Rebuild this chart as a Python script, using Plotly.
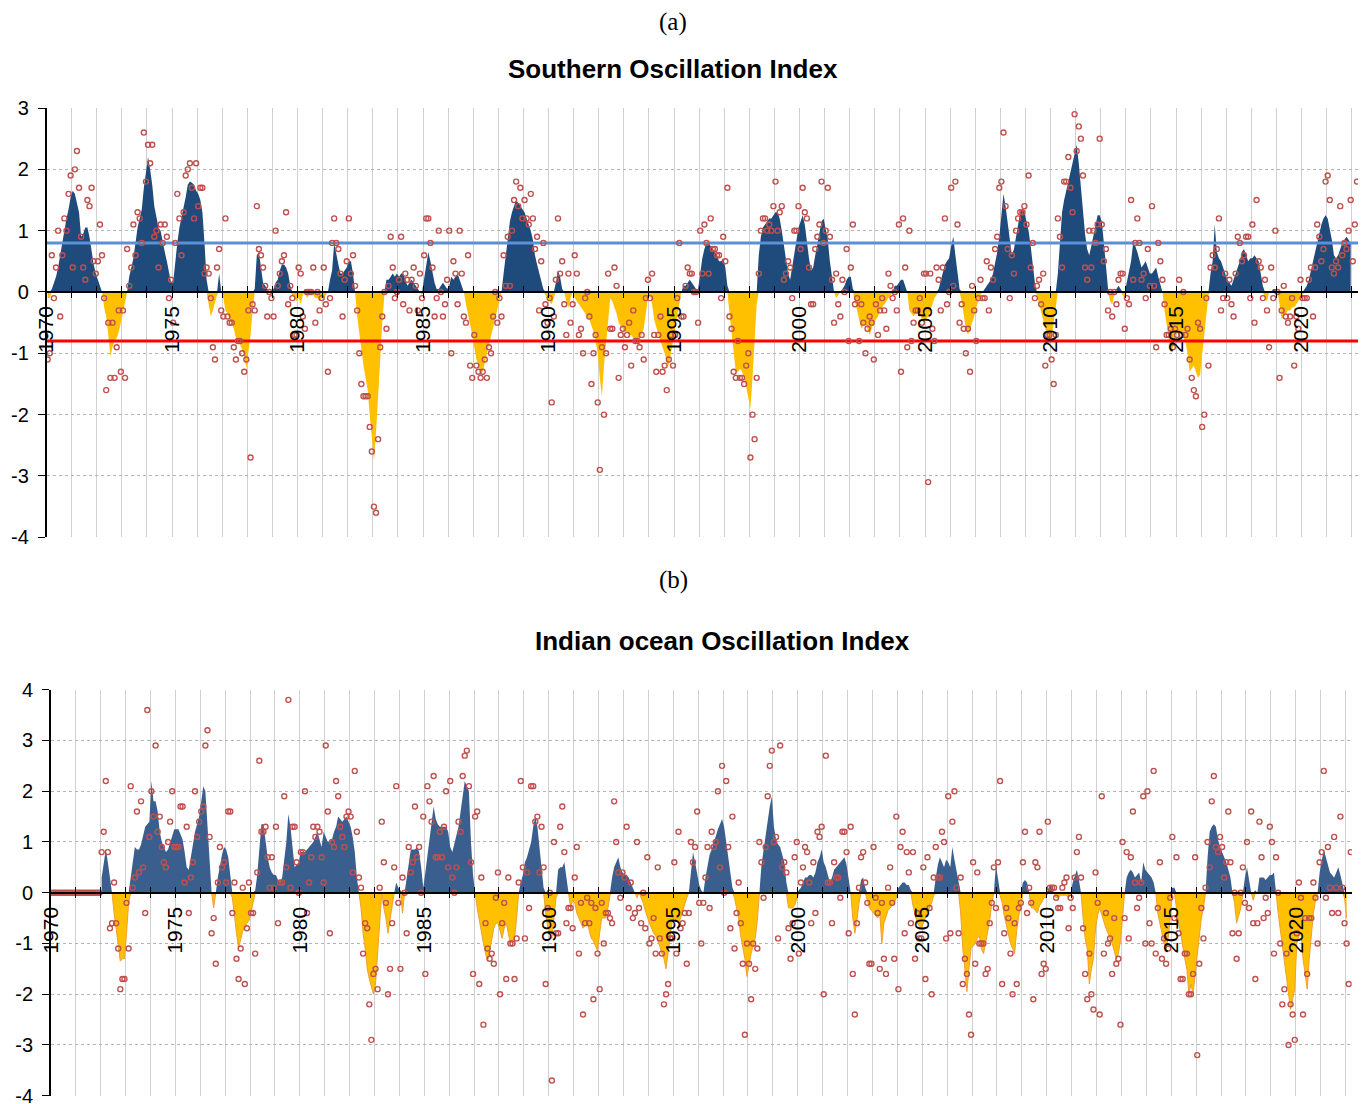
import plotly.graph_objects as go

# ---------------- data (monthly, Jan 1970 onwards) ----------------
START_YEAR = 1970
END_X = 2022.25          # last category edge (Mar 2022)
SOI_THRESH = 0.8
IOI_AVG_START = 1972

# (a) Southern Oscillation Index, monthly values (markers)
soi_pts_1970s = [
    -1.1, -1.0, 0.6, -0.1, 0.4, 1.0, -0.4, 0.6, 1.2, 1.0, 1.6, 1.9,
    0.4, 2.0, 2.3, 1.7, 0.9, 0.4, 0.2, 1.5, 1.4, 1.7, 0.5, 0.3,
    0.5, 1.1, 0.6, -0.1, -1.6, -0.5, -1.4, -0.5, -1.4, -0.9, -0.3, -1.3,
    -0.3, -1.4, 0.7, 0.1, 0.4, 1.1, 0.6, 1.3, 1.2, 0.8, 2.6, 1.8,
    2.4, 2.1, 2.4, 0.9, 1.0, 0.4, 1.1, 0.8, 1.1, 0.9, -0.1, 0.2,
    -0.5, 0.8, 1.6, 1.2, 0.6, 1.3, 1.9, 2.0, 2.1, 1.7, 1.2, 2.1,
    1.4, 1.7, 1.7, 0.3, 0.4, 0.3, -0.1, -0.9, -1.1, 0.4, 0.7, -0.3,
    -0.4, 1.2, -0.4, -0.5, -0.5, -0.9, -1.1, -0.8, -0.8, -1.0, -1.3, -1.1,
    -0.3, -2.7, -0.2, -0.3, 1.4, 0.7, 0.6, 0.4, 0.1, -0.4, 0.0, -0.1,
    -0.4, 1.0, 0.1, 0.3, 0.5, 0.6, 1.3, -0.2, 0.1, -0.1, -0.7, -0.7]
soi_pts_1980s = [
    0.4, 0.3, -0.4, -0.6, 0.0, 0.0, 0.0, 0.4, -0.5, 0.0, -0.3, -0.1,
    0.4, -0.2, -1.3, -0.1, 0.8, 1.2, 0.8, 0.7, 0.3, -0.4, 0.2, 0.5,
    1.2, 0.3, 0.6, 0.1, -0.3, -1.0, -1.5, -1.7, -1.7, -1.7, -2.2, -2.6,
    -3.5, -3.6, -2.4, -0.9, -0.4, 0.0, -0.6, 0.1, 0.9, 0.4, -0.1, 0.0,
    0.2, 0.9, -0.2, 0.3, 0.2, -0.3, 0.2, 0.4, 0.1, -0.3, 0.3, -0.1,
    0.6, 1.2, 1.2, 0.8, 0.4, -0.4, -0.1, 1.0, 0.0, -0.4, -0.2, 0.2,
    1.0, -1.0, 0.5, 0.3, -0.2, 1.0, 0.3, -0.4, -0.5, 0.6, -1.2, -1.4,
    -0.7, -1.2, -1.3, -1.4, -1.3, -1.1, -1.4, -0.9, -1.0, -0.4, 0.0, -0.5,
    -0.1, -0.4, 0.6, 0.1, 0.9, 0.1, 1.0, 1.5, 1.8, 1.4, 1.7, 1.2,
    1.5, 1.2, 1.1, 1.6, 1.2, 0.7, 0.9, -0.3, 0.5, 0.8, -0.2, -0.5]
soi_pts_1990s = [
    -0.1, -1.8, -0.4, 0.2, 1.2, 0.3, 0.5, -0.2, -0.7, 0.3, -0.5, -0.2,
    0.6, 0.3, -0.7, -0.6, -1.0, -0.1, 0.0, -0.4, -1.5, -1.0, -0.7, -1.8,
    -2.9, -0.9, -2.0, -1.0, 0.3, -0.6, -0.6, 0.4, 0.1, -1.4, -0.7, -0.6,
    -0.9, -0.7, -0.5, -1.2, -0.3, -0.8, -0.8, -0.9, -0.7, -1.1, -0.1, 0.2,
    -0.1, 0.3, -0.7, -1.3, -0.7, -0.4, -1.3, -1.2, -1.6, -1.1, -0.7, -1.2,
    -0.7, -0.1, 0.8, -0.4, -0.4, 0.1, 0.4, 0.3, 0.3, 0.0, 0.0, -0.5,
    1.0, 0.3, 1.1, 0.8, 0.3, 1.2, 0.7, 0.7, 0.6, 0.6, -0.1, 0.9,
    0.5, 1.7, -0.4, -0.6, -1.3, -1.4, -0.8, -1.4, -1.4, -1.5, -1.2, -1.0,
    -2.7, -2.0, -2.4, -1.4, 0.3, 1.0, 1.2, 1.2, 1.0, 1.1, 1.0, 1.4,
    1.8, 1.0, 1.3, 1.4, 0.2, 0.3, 0.5, 0.4, -0.1, 1.0, 1.0, 1.4]
soi_pts_2000s = [
    0.7, 1.7, 1.3, 1.2, 0.4, -0.2, -0.2, 0.7, 0.9, 1.1, 1.8, 0.8,
    1.0, 1.7, 0.9, 0.2, -0.5, 0.3, -0.2, -0.4, 0.2, 0.0, 0.7, -0.8,
    0.4, 1.1, -0.2, -0.1, -0.8, -0.2, -0.5, -1.0, -0.6, -0.4, -0.5, -1.1,
    -0.2, -0.7, -0.3, -0.1, -0.3, -0.6, 0.3, 0.1, -0.1, 0.0, -0.3, 1.1,
    -1.3, 1.2, 0.4, -0.9, 1.0, -0.8, -0.5, -0.3, -0.3, -0.1, -0.5, 0.3,
    0.3, -3.1, 0.3, -0.6, -0.8, 0.4, 0.2, -0.3, 0.4, 1.2, -0.2, 0.0,
    1.7, 0.1, 1.8, 1.1, -0.5, -0.2, -0.6, -1.0, -0.6, -1.3, 0.1, -0.3,
    -0.8, -0.1, 0.2, -0.1, -0.1, 0.5, -0.3, 0.4, 0.2, 0.7, 0.9, 1.7,
    1.8, 2.6, 1.4, 0.7, -0.1, 0.6, 0.3, 1.0, 1.2, 1.3, 1.3, 1.4,
    1.1, 1.9, 0.4, 0.8, -0.1, 0.1, 0.2, -0.2, 0.3, -1.2, -0.7, -0.7]
soi_pts_2010s = [
    -1.1, -1.5, -0.7, 1.2, 0.9, 0.4, 1.8, 1.8, 2.2, 1.7, 1.3, 2.9,
    2.3, 2.7, 2.5, 1.9, 0.4, 0.2, 1.0, 0.4, 1.0, 0.8, 1.1, 2.5,
    1.1, 0.5, 0.7, -0.3, 0.0, -0.4, 0.0, -0.2, 0.2, 0.3, 0.3, -0.6,
    -0.1, -0.2, 1.5, 0.2, 0.8, 1.2, 0.8, 0.2, 0.3, -0.1, 0.7, 0.1,
    1.4, 0.1, -0.9, 0.8, 0.5, 0.2, -0.2, -0.7, -0.7, -0.6, -0.9, -0.6,
    -0.7, 0.2, -0.7, 0.0, -0.7, -0.6, -1.1, -1.4, -1.6, -1.7, -0.5, -0.6,
    -2.2, -2.0, -0.1, -1.2, 0.4, 0.6, 0.4, 0.7, 1.2, -0.3, -0.1, 0.3,
    -0.1, 0.2, -0.2, -0.4, 0.3, 0.9, 0.8, 0.5, 0.6, 0.9, 0.9, -0.1,
    1.1, -0.5, 1.5, 0.5, 0.4, -0.1, 0.2, -0.3, -0.9, 0.4, -0.1, 1.0,
    0.0, -1.4, -0.3, 0.1, -0.4, -0.5, -0.4, -0.1, -1.2, -0.4, -0.6, 0.2]
soi_pts_2020s = [
    -0.1, -0.1, -0.1, 0.2, 0.4, -0.4, 0.4, 1.1, 0.9, 0.5, 0.7, 1.8,
    1.9, 1.5, 0.4, 0.3, 0.5, 0.4, 1.4, 0.6, 0.8, 0.7, 1.0, 1.5,
    0.5, 1.1, 1.8]

# (a) smoothed SOI (area), Jan 1970 - Dec 2021
soi_avg_1970s = [
    -0.1, -0.1, 0.05, 0.15, 0.25, 0.4, 0.6, 0.85, 1.05, 1.2, 1.35, 1.55,
    1.65, 1.6, 1.45, 1.3, 0.9, 0.95, 1.05, 1.05, 0.9, 0.65, 0.45, 0.3,
    0.2, 0.1, 0.0, -0.25, -0.4, -0.7, -1.05, -0.9, -0.8, -0.75, -0.65, -0.5,
    -0.35, -0.2, 0.0, 0.25, 0.4, 0.55, 0.8, 1.05, 1.2, 1.35, 1.7, 2.0,
    2.2, 2.0, 1.75, 1.4, 1.2, 1.05, 1.0, 0.8, 0.65, 0.5, 0.3, 0.15,
    0.15, 0.5, 0.8, 1.05, 1.2, 1.35, 1.55, 1.75, 1.8, 1.78, 1.75, 1.65,
    1.6, 1.5, 1.3, 0.8, 0.2, -0.2, -0.4, -0.3, -0.15, -0.05, 0.3, 0.0,
    -0.1, -0.3, -0.35, -0.45, -0.5, -0.6, -0.75, -0.85, -0.85, -0.95, -1.05, -1.25,
    -1.0, -0.7, -0.3, 0.05, 0.6, 0.65, 0.35, 0.15, 0.1, 0.05, 0.0, -0.05,
    0.05, 0.15, 0.2, 0.35, 0.45, 0.45, 0.4, 0.3, 0.1, -0.05, -0.1, -0.15]
soi_avg_1980s = [
    -0.1, -0.2, -0.05, 0.05, -0.1, -0.05, 0.0, -0.05, -0.1, -0.1, -0.15, -0.1,
    -0.1, -0.05, 0.0, 0.2, 0.35, 0.8, 0.6, 0.45, 0.3, 0.3, 0.35, 0.4,
    0.5, 0.5, 0.3, 0.0, -0.4, -0.7, -1.0, -1.2, -1.4, -1.6, -2.0, -2.4,
    -2.75, -2.3, -1.6, -1.1, -0.5, -0.05, 0.2, 0.2, 0.25, 0.3, 0.25, 0.3,
    0.25, 0.3, 0.3, 0.2, 0.1, 0.15, 0.2, 0.15, 0.1, 0.05, 0.0, -0.05,
    0.2, 0.45, 0.65, 0.5, 0.3, 0.15, 0.05, 0.05, 0.1, 0.15, 0.1, 0.05,
    0.1, 0.25, 0.2, 0.25, 0.3, 0.2, 0.1, 0.0, -0.2, -0.35, -0.55, -0.7,
    -0.9, -1.1, -1.2, -1.3, -1.3, -1.15, -1.0, -0.85, -0.7, -0.55, -0.4, -0.3,
    -0.1, 0.0, 0.3, 0.6, 0.95, 1.15, 1.3, 1.4, 1.5, 1.45, 1.4, 1.35,
    1.3, 1.2, 1.1, 1.0, 0.85, 0.6, 0.45, 0.3, 0.15, 0.05, -0.05, -0.1]
soi_avg_1990s = [
    -0.15, -0.2, -0.1, 0.15, 0.35, 0.25, 0.05, 0.0, -0.15, -0.25, -0.1, 0.0,
    -0.1, -0.15, -0.2, -0.25, -0.3, -0.35, -0.4, -0.45, -0.55, -0.65, -0.8, -1.0,
    -1.4, -1.7, -1.2, -0.8, -0.4, -0.1, -0.15, -0.25, -0.35, -0.5, -0.55, -0.6,
    -0.65, -0.65, -0.7, -0.7, -0.75, -0.8, -0.8, -0.75, -0.7, -0.6, -0.35, -0.1,
    -0.05, -0.2, -0.45, -0.6, -0.7, -0.8, -0.9, -1.0, -1.15, -1.2, -1.0, -0.8,
    -0.6, -0.4, -0.2, 0.0, 0.1, 0.1, 0.15, 0.2, 0.15, 0.1, 0.05, 0.05,
    0.35, 0.55, 0.7, 0.8, 0.8, 0.75, 0.7, 0.65, 0.6, 0.5, 0.5, 0.55,
    0.4, 0.1, -0.35, -0.7, -1.0, -1.3, -1.3, -1.25, -1.3, -1.4, -1.55, -1.7,
    -1.9, -1.4, -0.8, -0.2, 0.6, 0.9, 1.05, 1.1, 1.15, 1.2, 1.2, 1.25,
    1.3, 1.3, 1.2, 1.0, 0.75, 0.5, 0.3, 0.2, 0.4, 0.6, 0.8, 1.05]
soi_avg_2000s = [
    1.15, 1.25, 1.1, 0.8, 0.55, 0.35, 0.4, 0.6, 0.8, 1.0, 1.15, 1.2,
    1.05, 0.85, 0.5, 0.2, 0.0, -0.1, -0.05, 0.0, 0.05, 0.1, 0.2, 0.25,
    0.25, 0.05, -0.15, -0.3, -0.45, -0.6, -0.55, -0.5, -0.6, -0.7, -0.6, -0.5,
    -0.45, -0.4, -0.3, -0.25, -0.2, -0.15, -0.1, -0.05, 0.0, 0.1, 0.1, 0.15,
    0.2, 0.2, 0.1, 0.0, -0.3, -0.35, -0.4, -0.35, -0.3, -0.35, -0.45, -0.5,
    -0.45, -0.4, -0.3, -0.2, -0.1, -0.05, 0.05, 0.2, 0.35, 0.45, 0.5, 0.55,
    0.75, 0.9, 0.6, 0.3, 0.05, -0.15, -0.35, -0.6, -0.7, -0.6, -0.5, -0.4,
    -0.25, -0.15, -0.05, 0.0, 0.05, 0.1, 0.15, 0.2, 0.3, 0.45, 0.65, 0.9,
    1.3, 1.6, 1.4, 1.1, 0.8, 0.6, 0.7, 0.9, 1.1, 1.3, 1.35, 1.3,
    1.15, 1.0, 0.75, 0.45, 0.15, -0.05, -0.2, -0.35, -0.5, -0.6, -0.7, -0.8]
soi_avg_2010s = [
    -0.75, -0.5, -0.2, 0.3, 0.8, 1.3, 1.5, 1.65, 1.8, 1.95, 2.1, 2.25,
    2.4, 2.1, 1.7, 1.3, 0.95, 0.7, 0.6, 0.75, 0.9, 1.1, 1.25, 1.25,
    1.15, 0.8, 0.35, 0.05, -0.15, -0.2, -0.05, 0.05, 0.1, 0.05, -0.05, -0.1,
    0.15, 0.3, 0.5, 0.8, 0.75, 0.65, 0.5, 0.4, 0.45, 0.5, 0.4, 0.3,
    0.3, 0.35, 0.4, 0.25, 0.1, 0.0, -0.3, -0.55, -0.8, -1.0, -0.9, -0.75,
    -0.6, -0.65, -0.7, -0.75, -0.8, -1.0, -1.3, -1.25, -1.2, -1.3, -1.4, -1.35,
    -1.0, -0.7, -0.35, -0.05, 0.3, 0.5, 1.1, 0.65, 0.55, 0.5, 0.4, 0.3,
    0.2, 0.15, 0.1, 0.2, 0.3, 0.4, 0.5, 0.65, 0.7, 0.6, 0.5, 0.55,
    0.55, 0.6, 0.55, 0.5, 0.3, 0.1, -0.1, -0.15, 0.0, 0.0, 0.05, 0.05,
    0.0, -0.2, -0.45, -0.4, -0.35, -0.3, -0.3, -0.25, -0.25, -0.2, -0.15, -0.1]
soi_avg_2020s = [
    -0.05, 0.05, 0.1, 0.2, 0.35, 0.5, 0.7, 0.85, 1.0, 1.1, 1.2, 1.25,
    1.2, 1.05, 0.85, 0.6, 0.55, 0.6, 0.7, 0.8, 0.85, 0.9, 0.85, 0.8]

# (b) Indian ocean Oscillation Index, monthly values (markers)
ioi_pts_1970s = [
    0.0, 0.0, 0.0, 0.0, 0.0, 0.0, 0.0, 0.0, 0.0, 0.0, 0.0, 0.0,
    0.0, 0.0, 0.0, 0.0, 0.0, 0.0, 0.0, 0.0, 0.0, 0.0, 0.0, 0.0,
    0.8, 1.2, 2.2, 0.8, -0.7, -0.6, 0.2, -0.6, -1.1, -1.9, -1.7, -1.7,
    -0.2, -1.1, 2.1, 0.1, 0.3, 1.6, 0.4, 1.8, 0.5, -0.4, 3.6, 1.1,
    2.0, 1.5, 2.9, 1.2, 1.5, 0.9, 0.6, 0.5, 1.0, 1.4, 2.0, 0.9,
    0.9, 0.9, 1.7, 1.7, 0.2, 1.3, -0.4, 0.3, 0.6, 2.0, 1.1, 1.4,
    1.6, 1.7, 2.9, 3.2, 1.1, -0.8, -0.5, -1.4, 0.2, 0.9, 0.5, 0.6,
    0.2, 1.6, 1.6, -0.4, 0.2, -1.3, -1.7, -1.1, 0.1, -1.8, -0.7, 0.2,
    -0.4, -0.4, -1.2, 0.4, 2.6, 1.2, 1.2, 1.3, 0.7, 0.1, 0.7, 0.1,
    1.3, -0.6, 0.2, 0.2, 1.9, 0.5, 3.8, 0.1, 1.3, 1.3, 0.6, 0.0]
ioi_pts_1980s = [
    0.8, 0.8, 2.0, -0.4, 0.2, 0.7, 1.3, 1.1, 1.3, 1.2, 0.7, 0.2,
    2.9, 1.6, -0.8, 1.0, 0.9, 2.2, 1.9, 1.3, 1.1, 0.9, 1.5, 1.6,
    1.5, 0.4, 2.4, 1.2, 0.3, 0.1, -1.2, -0.6, -0.7, -2.2, -2.9, -1.6,
    -1.5, -1.9, 0.1, 1.4, 0.6, -0.2, -2.0, -1.5, -0.6, 0.5, 2.1, -0.2,
    -1.5, 0.3, 0.0, -0.8, 0.9, 0.4, 0.6, 1.7, 0.7, 0.9, 0.0, 1.5,
    -1.6, 2.1, 1.8, 1.4, 2.3, 0.7, 0.7, 1.2, 0.7, 1.3, 2.0, 0.5,
    2.2, 0.3, 0.0, 0.5, 1.4, 1.2, 2.3, 2.7, 2.8, 2.1, 0.6, -1.6,
    1.5, 1.6, -1.8, 0.3, -2.6, -0.6, -1.1, -1.3, -1.2, -1.4, -0.1, 0.4,
    -2.0, -0.6, -0.2, -1.7, 0.3, -1.0, -1.0, -1.7, -0.9, 0.2, 2.2, 0.5,
    -0.9, 0.4, -0.3, 2.1, 2.1, 1.4, 1.5, 0.4, 1.3, 0.5, -1.8, -0.3]
ioi_pts_1990s = [
    0.0, -3.7, 1.0, -0.8, -0.8, 1.3, 1.7, 0.8, -0.6, -0.3, -0.3, -0.7,
    0.3, 0.9, -1.2, -0.2, -2.4, -0.6, -0.1, -0.6, -0.2, -2.1, -0.3, -1.2,
    -1.9, -0.2, -1.0, -0.4, -0.4, -0.5, -0.6, 1.8, 1.0, 0.4, -0.1, 0.4,
    0.3, 1.3, -0.3, 0.2, -0.5, -0.4, 1.0, -0.3, -0.6, 0.0, -0.7, 0.7,
    -1.0, -0.9, -0.5, -1.2, 0.5, -0.9, -1.2, -2.2, -2.0, -1.8, -0.9, -0.9,
    0.6, -1.2, 1.2, -0.7, -0.6, -0.4, -1.4, -0.4, 1.0, 0.6, 0.9, 1.6,
    -0.2, -1.0, -0.2, 0.3, 0.9, -0.3, 1.2, 0.9, 1.0, 2.0, 0.5, 2.5,
    0.0, 2.2, 0.9, -0.7, 1.5, -1.1, -0.4, 0.2, -0.6, -1.4, -2.8, -1.0,
    -1.4, -2.1, -1.0, -1.5, -1.1, 1.0, 0.6, -0.1, 0.9, 1.9, 2.5, 2.8,
    1.0, 1.1, -0.9, 2.9, 0.5, 0.6, 0.4, -0.7, -1.3, -0.6, 0.7, 1.0]
ioi_pts_2000s = [
    -1.2, 0.2, 0.5, 0.9, 0.8, 0.2, -0.6, 0.6, -0.4, 1.2, 1.1, 1.3,
    -2.0, 2.7, 0.2, 0.2, -0.6, 0.6, 0.3, 0.3, -0.1, 1.2, 1.2, 0.8,
    -0.8, 1.3, -1.6, -2.4, -0.6, 0.1, 0.7, 0.8, 0.2, -0.2, -1.4, -1.4,
    0.9, -0.1, -0.4, -1.5, -0.2, -1.3, -1.6, 0.1, 0.5, -0.2, -1.3, 1.5,
    -1.9, 0.9, 1.2, -0.8, 0.8, 0.4, -0.6, 0.8, -1.3, -0.4, -0.9, -0.9,
    0.5, -1.7, 0.7, -0.3, -2.0, 0.3, 0.9, 0.3, 0.3, 1.2, 1.0, -0.9,
    1.9, -0.8, 1.4, 2.0, 0.1, -0.8, 0.3, -1.8, -1.3, -1.6, -2.4, -2.8,
    0.6, -1.4, 0.4, -1.0, -1.0, -1.0, -1.6, -1.5, -0.6, -0.2, 0.5, -0.3,
    0.6, 2.2, -1.8, -0.8, -0.3, -0.5, -1.2, -2.0, -0.6, -1.8, -0.3, -0.2,
    0.6, 1.2, -0.4, 0.1, -0.2, -2.1, 0.6, 0.5, 1.2, -1.6, -1.4, -1.5]
ioi_pts_2010s = [
    1.4, 0.1, 0.1, 0.1, -0.1, -0.3, -0.3, 0.1, 0.2, 0.3, -0.7, -0.1,
    -0.3, 0.3, 0.8, 1.1, 0.3, -0.7, -1.6, -2.1, -1.2, -2.0, -2.3, 0.4,
    -0.2, -2.4, 1.9, -1.2, -0.4, -1.0, -0.9, -1.6, -0.5, -1.4, -1.3, -2.6,
    1.0, -0.5, 0.8, -0.9, 0.7, 1.6, 0.2, -0.3, -0.1, 0.2, 1.9, -1.0,
    2.0, -0.6, -1.0, 2.4, -1.2, -0.3, 0.6, -1.3, -0.9, -1.4, -1.1, -0.1,
    1.1, -0.5, 0.7, -0.8, -1.7, -1.7, -1.2, -1.2, -2.0, -2.0, -1.6, 0.7,
    -3.2, -1.4, -0.3, -0.9, 0.1, 1.0, 0.5, 1.8, 2.3, 0.9, 0.8, 1.1,
    0.9, 0.3, 0.6, 1.6, 0.6, -0.8, 0.0, -1.3, -0.8, 0.0, 0.5, -0.2,
    1.0, -0.3, 1.6, -0.6, -1.7, -0.6, 1.4, 0.7, -0.5, -0.1, -0.4, 1.3,
    1.0, -1.2, 0.7, 0.0, -1.0, -2.2, -1.9, -1.2, -3.0, -2.2, -2.4, -2.9]
ioi_pts_2020s = [
    -0.8, 0.2, -0.1, -2.4, -0.5, -1.6, -0.5, -0.5, 0.2, -0.1, -1.0, 0.6,
    0.8, 2.4, -0.1, 0.9, 0.1, -0.4, 1.1, 0.1, -0.4, 1.5, 0.1, -0.6,
    -1.0, -1.8, 0.8]

# (b) smoothed index (area), Jan 1972 - Jan 2022
ioi_avg_1970s = [
    0.3, 0.6, 0.85, 0.6, 0.3, 0.0, -0.4, -0.7, -1.0, -1.35, -1.3, -1.3,
    -0.8, -0.2, 0.3, 0.6, 0.9, 0.85, 0.85, 0.95, 1.1, 1.3, 1.35, 1.4,
    2.2, 1.8, 1.8, 1.6, 1.2, 1.0, 0.9, 0.8, 0.85, 1.0, 1.15, 1.25,
    1.25, 1.25, 1.15, 1.05, 0.8, 0.5, 0.45, 0.7, 0.95, 1.2, 1.35, 1.5,
    1.8, 2.1, 2.0, 1.4, 0.7, 0.0, -0.3, 0.0, 0.3, 0.55, 0.75, 0.9,
    0.85, 0.7, 0.3, -0.1, -0.5, -0.8, -1.1, -0.9, -0.75, -0.7, -0.6, -0.55,
    -0.4, -0.2, 0.05, 0.35, 0.85, 1.35, 1.35, 1.0, 0.7, 0.5, 0.4, 0.35,
    0.35, 0.25, 0.2, 0.3, 0.6, 1.0, 1.55, 1.3, 0.9, 0.5, 0.55, 0.6]
ioi_avg_1980s = [
    0.8, 0.8, 0.8, 0.85, 0.9, 0.95, 1.0, 1.1, 1.2, 1.05, 0.9, 1.2,
    1.1, 1.0, 1.0, 1.05, 1.2, 1.3, 1.5, 1.45, 1.4, 1.45, 1.5, 1.4,
    1.3, 1.1, 0.8, 0.3, 0.0, -0.3, -0.8, -1.1, -1.5, -1.7, -1.85, -2.0,
    -1.8, -1.2, -0.4, 0.0, -0.3, -0.5, -0.8, -0.5, -0.2, 0.0, 0.2, 0.1,
    0.05, -0.4, 0.0, 0.3, 0.6, 0.85, 0.85, 0.85, 0.9, 0.8, 0.5, 0.1,
    0.4, 0.7, 1.0, 1.3, 1.7, 1.45, 1.35, 1.3, 1.3, 1.3, 1.3, 1.2,
    0.9, 0.8, 0.95, 1.1, 1.3, 1.6, 1.9, 2.2, 2.1, 2.0, 1.0, 0.35,
    0.0, -0.3, -0.55, -0.8, -1.0, -1.2, -1.35, -1.15, -0.95, -0.7, -0.6, -0.6,
    -0.75, -0.9, -0.7, -0.6, -0.8, -1.0, -0.95, -0.9, -0.5, 0.0, 0.2, 0.35,
    0.6, 0.7, 0.85, 1.0, 1.3, 1.5, 1.3, 0.9, 0.55, 0.1, -0.4, -0.7]
ioi_avg_1990s = [
    -0.8, -0.9, -0.5, -0.1, 0.45, 0.5, 0.5, 0.6, 0.3, 0.0, -0.3, -0.15,
    -0.2, -0.4, -0.5, -0.6, -0.7, -0.65, -0.6, -0.75, -0.9, -0.95, -1.05, -1.15,
    -0.8, -0.5, -0.5, -0.5, -0.3, -0.05, 0.3, 0.5, 0.6, 0.7, 0.5, 0.4,
    0.35, 0.35, 0.3, 0.2, 0.1, 0.0, -0.1, 0.0, -0.1, -0.2, -0.35, -0.5,
    -0.6, -0.7, -0.8, -0.85, -0.95, -1.05, -1.2, -1.3, -1.5, -1.2, -0.8, -0.55,
    -0.5, -0.55, -0.6, -0.5, -0.35, -0.2, -0.1, 0.0, 0.4, 0.8, 0.6, 0.4,
    0.15, 0.05, 0.0, 0.3, 0.55, 0.75, 0.85, 1.0, 1.15, 1.25, 1.35, 1.45,
    1.3, 1.0, 0.8, 0.45, 0.1, -0.1, -0.3, -0.5, -0.85, -1.1, -1.3, -1.65,
    -1.4, -1.2, -1.05, -0.9, -0.55, 0.0, 0.55, 0.85, 1.1, 1.45, 1.7, 1.9,
    1.3, 1.05, 0.95, 0.9, 0.75, 0.6, 0.2, -0.3, -0.3, -0.3, -0.25, -0.1]
ioi_avg_2000s = [
    0.05, 0.1, 0.2, 0.3, 0.3, 0.35, 0.35, 0.3, 0.4, 0.6, 0.7, 0.85,
    0.6, 0.5, 0.35, 0.2, 0.3, 0.45, 0.5, 0.55, 0.6, 0.65, 0.7, 0.55,
    0.3, 0.0, -0.5, -0.8, -0.55, -0.2, 0.25, 0.3, 0.1, -0.15, -0.3, -0.35,
    -0.4, -0.45, -0.5, -0.4, -1.0, -0.6, -0.45, -0.35, -0.3, -0.25, -0.2, -0.1,
    0.1, 0.15, 0.2, 0.2, 0.15, 0.15, 0.05, -0.25, -0.45, -0.6, -0.65, -0.7,
    -0.6, -0.5, -0.4, -0.3, -0.2, -0.05, 0.3, 0.55, 0.7, 0.6, 0.5, 0.65,
    0.6, 0.5, 0.9, 0.65, 0.45, 0.2, -0.4, -1.1, -1.5, -1.95, -1.5, -1.1,
    -1.05, -1.0, -0.9, -0.85, -1.1, -1.2, -1.0, -0.8, -0.55, -0.2, 0.0, 0.55,
    0.3, -0.05, -0.2, -0.45, -0.65, -0.8, -1.0, -1.1, -1.2, -0.75, -0.45, -0.3,
    0.2, 0.25, 0.2, 0.0, -0.3, -0.3, -0.35, -0.4, -0.25, -0.2, -0.1, -0.1]
ioi_avg_2010s = [
    0.05, 0.15, 0.1, 0.0, -0.1, -0.1, -0.05, -0.05, -0.05, -0.05, -0.1, 0.0,
    0.2, 0.35, 0.45, 0.25, 0.0, -0.5, -0.9, -1.1, -1.8, -1.5, -1.3, -0.7,
    -0.45, -0.3, -0.45, -0.6, -0.7, -0.8, -0.9, -1.0, -1.15, -1.3, -1.2, -0.95,
    -0.5, 0.0, 0.3, 0.4, 0.45, 0.4, 0.3, 0.35, 0.4, 0.2, 0.6, 0.45,
    0.4, 0.35, 0.3, 0.2, 0.0, -0.4, -0.6, -0.8, -1.0, -1.1, -0.9, -0.5,
    0.1, 0.1, -0.35, -0.6, -0.8, -1.1, -1.3, -1.5, -2.0, -1.8, -2.0, -1.6,
    -1.2, -0.9, -0.5, -0.3, 0.0, 0.7, 1.2, 1.3, 1.35, 1.3, 1.05, 0.9,
    0.8, 0.7, 0.6, 0.45, 0.3, 0.0, -0.2, -0.6, -0.45, -0.3, 0.0, 0.3,
    0.5, 0.25, 0.0, -0.15, 0.05, 0.0, 0.3, 0.3, 0.3, 0.25, 0.3, 0.35,
    0.35, 0.4, 0.0, -0.4, -0.7, -1.0, -1.3, -1.6, -2.0, -2.3, -2.1, -1.9]
ioi_avg_2020s = [
    -1.0, -0.85, -0.8, -1.3, -1.6, -1.9, -1.3, -0.8, -0.4, -0.15, 0.0, 0.4,
    0.6, 0.85, 0.7, 0.55, 0.4, 0.35, 0.3, 0.4, 0.5, 0.35, 0.2, -0.1,
    -0.5]

YEAR_TICKS = list(range(1970, 2023))

# ---------------- helpers ----------------
def joined(*parts):
    out = []
    for p in parts:
        out.extend(p)
    return out

def month_x(n, start_year):
    return [start_year + (i + 0.5) / 12.0 for i in range(n)]

soi_pts = joined(soi_pts_1970s, soi_pts_1980s, soi_pts_1990s, soi_pts_2000s, soi_pts_2010s, soi_pts_2020s)
soi_avg = joined(soi_avg_1970s, soi_avg_1980s, soi_avg_1990s, soi_avg_2000s, soi_avg_2010s, soi_avg_2020s)
ioi_pts = joined(ioi_pts_1970s, ioi_pts_1980s, ioi_pts_1990s, ioi_pts_2000s, ioi_pts_2010s, ioi_pts_2020s)
ioi_avg = joined(ioi_avg_1970s, ioi_avg_1980s, ioi_avg_1990s, ioi_avg_2000s, ioi_avg_2010s, ioi_avg_2020s)

# the page body adds an 8 px margin; size the figure so it still fits the window
PAGE_PAD = 8
W, H = 1367 - PAGE_PAD, 1104 - PAGE_PAD
# panel geometry in window pixels
TOP_X0, TOP_X1 = 46.6, 1358.0
TOP_Y_HI, TOP_Y_LO = 108.0, 537.3      # y=3 , y=-4
BOT_X0, BOT_X1 = 50.8, 1351.8
BOT_Y_HI, BOT_Y_LO = 689.7, 1095.7     # y=4 , y=-4
TOP_RANGE = [-4, 3]
BOT_RANGE = [-4, 4]

def fx(px):
    return (px - PAGE_PAD) / W

def fy(py):
    return 1 - (py - PAGE_PAD) / H

top_dom_y = [fy(TOP_Y_LO), fy(TOP_Y_HI)]
bot_dom_y = [fy(BOT_Y_LO), fy(BOT_Y_HI)]
def zero_pos(dom, rng):
    return dom[0] + (0 - rng[0]) / (rng[1] - rng[0]) * (dom[1] - dom[0])

BLUE_TOP = "#1f4a7c"
BLUE_BOT = "#3a5f8e"
GOLD = "#ffc000"
RED_M = "#c0504d"

fig = go.Figure()

def add_area(vals, start_year, xa, ya, blue, outline=None):
    xs = month_x(len(vals), start_year)
    pos = [max(v, 0.0) for v in vals]
    neg = [min(v, 0.0) for v in vals]
    fig.add_trace(go.Scatter(x=xs, y=pos, mode="lines", fill="tozeroy",
                             fillcolor=blue, line=dict(width=0, color=blue),
                             xaxis=xa, yaxis=ya, hoverinfo="skip", showlegend=False))
    fig.add_trace(go.Scatter(x=xs, y=neg, mode="lines", fill="tozeroy",
                             fillcolor=GOLD,
                             line=dict(width=(1 if outline else 0), color=(outline or GOLD)),
                             xaxis=xa, yaxis=ya, hoverinfo="skip", showlegend=False))

def add_points(vals, xa, ya):
    fig.add_trace(go.Scatter(x=month_x(len(vals), START_YEAR), y=vals, mode="markers",
                             marker=dict(symbol="circle-open", size=5, color=RED_M,
                                         line=dict(width=1.4, color=RED_M)),
                             xaxis=xa, yaxis=ya, hoverinfo="skip", showlegend=False))

# panel (a)
add_area(soi_avg, START_YEAR, "x", "y", BLUE_TOP)
fig.add_trace(go.Scatter(x=[START_YEAR, END_X], y=[SOI_THRESH, SOI_THRESH], mode="lines",
                         line=dict(color="#5b8fd6", width=3), xaxis="x", yaxis="y",
                         hoverinfo="skip", showlegend=False))
fig.add_trace(go.Scatter(x=[START_YEAR, END_X], y=[-SOI_THRESH, -SOI_THRESH], mode="lines",
                         line=dict(color="#ff0000", width=3), xaxis="x", yaxis="y",
                         hoverinfo="skip", showlegend=False))
add_points(soi_pts, "x", "y")

# panel (b)
add_area(ioi_avg, IOI_AVG_START, "x2", "y2", BLUE_BOT, outline="#f0a030")
add_points(ioi_pts, "x2", "y2")

# dummy traces so that the inside-tick overlay axes are drawn
fig.add_trace(go.Scatter(x=[None], y=[None], xaxis="x3", yaxis="y", showlegend=False, hoverinfo="skip"))
fig.add_trace(go.Scatter(x=[None], y=[None], xaxis="x4", yaxis="y2", showlegend=False, hoverinfo="skip"))

tick_text = [str(y) if y % 5 == 0 else "" for y in YEAR_TICKS]
X_FONT = dict(family="Liberation Sans, Arial, sans-serif", size=21, color="black")
Y_FONT = dict(family="Liberation Sans, Arial, sans-serif", size=20, color="black")

def xaxis_cfg(dom, pos):
    return dict(domain=dom, range=[START_YEAR, END_X], anchor="free", position=pos,
                tickmode="array", tickvals=YEAR_TICKS, ticktext=tick_text, tickangle=-90,
                ticks="outside", ticklen=5, tickwidth=1, tickcolor="black",
                showline=True, linecolor="black", linewidth=1.5,
                showgrid=True, gridcolor="#d0d0d0", gridwidth=1,
                zeroline=False, tickfont=X_FONT, automargin=False,
                ticklabelstandoff=0, ticklabeloverflow="allow", fixedrange=True)

def xover_cfg(over, pos):
    return dict(overlaying=over, range=[START_YEAR, END_X], anchor="free", position=pos,
                tickmode="array", tickvals=YEAR_TICKS, ticks="inside", ticklen=6,
                tickwidth=1, tickcolor="black", showticklabels=False, showline=False,
                showgrid=False, zeroline=False, automargin=False)

def yaxis_cfg(dom, rng, anchor):
    vals = list(range(rng[0], rng[1] + 1))
    return dict(domain=dom, range=rng, anchor=anchor, tickmode="array", tickvals=vals,
                ticktext=[str(v) for v in vals], ticks="outside", ticklen=7,
                tickcolor="black", showline=True, linecolor="black", linewidth=1.5,
                showgrid=True, gridcolor="#b4b4b4", griddash="dot", gridwidth=1,
                zeroline=False, tickfont=Y_FONT, automargin=False,
                ticklabelstandoff=5, ticklabeloverflow="allow")

top_zero = zero_pos(top_dom_y, TOP_RANGE)
bot_zero = zero_pos(bot_dom_y, BOT_RANGE)

fig.update_layout(
    width=W, height=H, autosize=False,
    margin=dict(l=0, r=0, t=0, b=0),
    paper_bgcolor="white", plot_bgcolor="white",
    template="none",
    showlegend=False,
    xaxis=xaxis_cfg([fx(TOP_X0), fx(TOP_X1)], top_zero),
    yaxis=yaxis_cfg(top_dom_y, TOP_RANGE, "x"),
    xaxis2=xaxis_cfg([fx(BOT_X0), fx(BOT_X1)], bot_zero),
    yaxis2=yaxis_cfg(bot_dom_y, BOT_RANGE, "x2"),
    xaxis3=xover_cfg("x", top_zero),
    xaxis4=xover_cfg("x2", bot_zero),
)

SERIF = dict(family="Liberation Serif, Times New Roman, serif", size=25, color="black")
BOLD = dict(family="Liberation Sans, Arial, sans-serif", size=26, color="black")
fig.add_annotation(text="(a)", x=fx(673), y=fy(22), xref="paper", yref="paper",
                   showarrow=False, xanchor="center", yanchor="middle", font=SERIF)
fig.add_annotation(text="<b>Southern Oscillation Index</b>", x=fx(673), y=fy(69),
                   xref="paper", yref="paper", showarrow=False, xanchor="center",
                   yanchor="middle", font=BOLD)
fig.add_annotation(text="(b)", x=fx(673), y=fy(580), xref="paper", yref="paper",
                   showarrow=False, xanchor="center", yanchor="middle", font=SERIF)
fig.add_annotation(text="<b>Indian ocean Oscillation Index</b>", x=fx(722), y=fy(641),
                   xref="paper", yref="paper", showarrow=False, xanchor="center",
                   yanchor="middle", font=BOLD)

fig.write_html("out.html")
